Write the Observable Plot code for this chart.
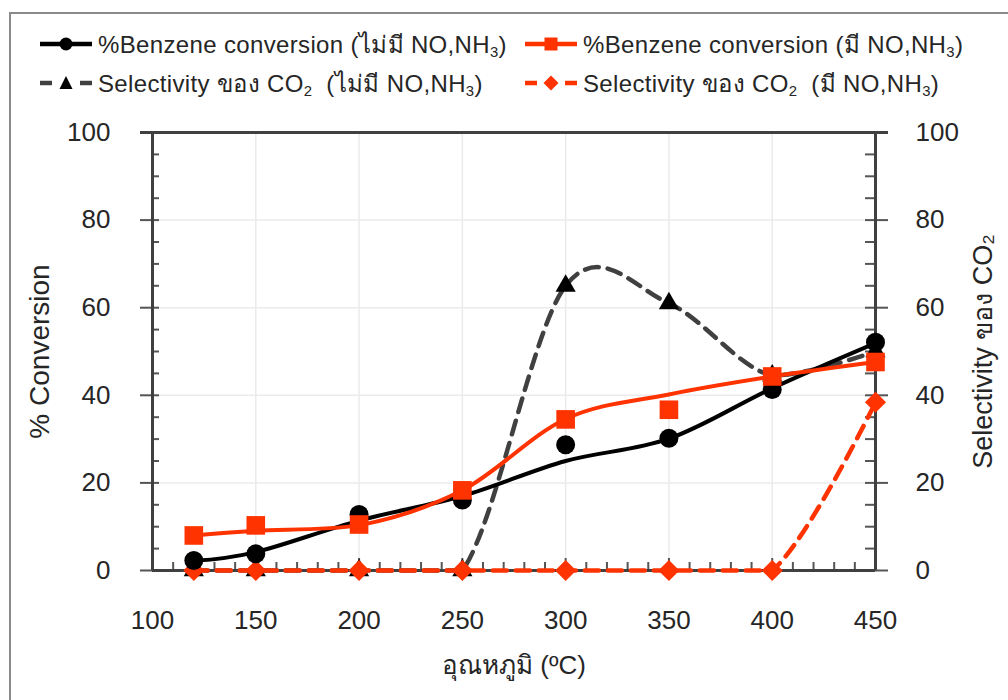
<!DOCTYPE html>
<html>
<head>
<meta charset="utf-8">
<script src="https://cdn.jsdelivr.net/npm/d3@7"></script>
<script src="https://cdn.jsdelivr.net/npm/@observablehq/plot@0.6"></script>
<style>
  html, body { margin: 0; padding: 0; background: #fff; }
  body { width: 1008px; height: 700px; position: relative; overflow: hidden;
         font-family: "Liberation Sans", "Noto Sans", "DejaVu Sans", sans-serif; color: #262626; }
  #frame { position: absolute; left: 9px; top: 12px; width: 1100px; height: 800px;
           border: 2px solid #8a8a8a; box-sizing: border-box; }
  #chart { position: absolute; left: 0; top: 0; }
  .leg { position: absolute; display: flex; align-items: center; font-size: 24px; letter-spacing: 0.35px; white-space: nowrap; height: 30px; }
  .leg svg { margin-right: 6px; }
  .leg sub { font-size: 0.62em; vertical-align: -0.28em; line-height: 0; }
</style>
</head>
<body>
<div id="frame"></div>
<div id="chart"></div>
<div id="legend"></div>
<script>
// ---- data ----
const temps = [120, 150, 200, 250, 300, 350, 400, 450];
// markers
const convNoMark   = [2.3, 3.8, 12.8, 16.1, 28.7, 30.2, 41.3, 52.1];
const convWithMark = [8.0, 10.3, 10.5, 18.3, 34.5, 36.7, 44.3, 47.6];
// smoothed lines (as drawn)
const convNoLine   = [2.2, 4.2, 11.4, 17.0, 25.0, 30.1, 41.6, 51.9];
const convWithLine = [8.0, 9.1, 10.3, 18.3, 34.6, 40.2, 44.3, 47.6];
const selNo   = [0, 0, 0, 0, 65, 61, 44.5, 50];
const selWith = [0, 0, 0, 0, 0, 0, 0, 38.4];
// axes
const xTicks = [100, 150, 200, 250, 300, 350, 400, 450];
const xGrid  = [150, 200, 250, 300, 350, 400];
const xMinor = [110,120,130,140,150,160,170,180,190,200,210,220,230,240,250,260,270,280,290,300,310,320,330,340,350,360,370,380,390,400,410,420,430,440,450];
const yTicks = [0, 20, 40, 60, 80, 100];
const yGrid  = [20, 40, 60, 80];
const yMinor = [5,10,15,20,25,30,35,40,45,50,55,60,65,70,75,80,85,90,95,100];
const xTitle = "อุณหภูมิ (ºC)";
const yTitle = "% Conversion";
const y2Title = "Selectivity ของ CO₂";
const legendItems = [
  {label: '%Benzene conversion (ไม่มี NO,NH<sub>3</sub>)', color: "#000000", symbol: "circle", dash: false},
  {label: '%Benzene conversion (มี NO,NH<sub>3</sub>)', color: "#ff3300", symbol: "square", dash: false},
  {label: 'Selectivity ของ CO<sub>2</sub>&nbsp; (ไม่มี NO,NH<sub>3</sub>)', color: "#404040", mark: "#000000", symbol: "triangle", dash: true},
  {label: 'Selectivity ของ CO<sub>2</sub>&nbsp; (มี NO,NH<sub>3</sub>)', color: "#ff3300", symbol: "diamond", dash: true}
];

const RED = "#ff3300", AX = "#404040", TK = "#555555", GRID = "#ebebeb";
const FONT = "Liberation Sans, Noto Sans, DejaVu Sans, sans-serif";
const DASH = "14,9";

// Excel-like smoothing: cardinal spline that never dips below the lower segment end
function smoothCurve(context) {
  let py = 0;
  const proxy = {
    moveTo(x, y) { py = y; context.moveTo(x, y); },
    lineTo(x, y) { py = y; context.lineTo(x, y); },
    bezierCurveTo(x1, y1, x2, y2, x, y) {
      const lim = Math.max(py, y);
      context.bezierCurveTo(x1, Math.min(y1, lim), x2, Math.min(y2, lim), x, y);
      py = y;
    },
    closePath() { context.closePath(); }
  };
  return d3.curveCardinal(proxy);
}

const chart = Plot.plot({
  width: 1008,
  height: 700,
  marginLeft: 152,
  marginRight: 133,
  marginTop: 132,
  marginBottom: 130,
  style: {fontFamily: FONT, background: "transparent", color: "#262626"},
  x: {domain: [100, 450], axis: null},
  y: {domain: [0, 100], axis: null},
  marks: [
    // gridlines
    Plot.ruleX(xGrid, {stroke: GRID, strokeWidth: 1.5}),
    Plot.ruleY(yGrid, {stroke: GRID, strokeWidth: 1.5}),
    // left axis ticks
    Plot.ruleY(yMinor, {y: d => d, x1: 100, x2: 100, insetRight: -7, stroke: TK, strokeWidth: 2}),
    Plot.ruleY(yTicks, {y: d => d, x1: 100, x2: 100, insetLeft: -12, stroke: TK, strokeWidth: 2}),
    // right axis ticks
    Plot.ruleY(yMinor, {y: d => d, x1: 450, x2: 450, insetLeft: -10, stroke: TK, strokeWidth: 2}),
    Plot.ruleY(yTicks, {y: d => d, x1: 450, x2: 450, insetRight: -13, stroke: TK, strokeWidth: 2}),
    // x axis ticks
    Plot.ruleX(xMinor, {x: d => d, y1: 0, y2: 0, insetBottom: 8, stroke: TK, strokeWidth: 2}),
    Plot.ruleX(xTicks, {x: d => d, y1: 0, y2: 0, insetTop: -12, stroke: TK, strokeWidth: 2}),
    // axis lines
    Plot.ruleX([100, 450], {stroke: AX, strokeWidth: 3}),
    Plot.ruleY([0], {stroke: AX, strokeWidth: 3}),
    Plot.ruleY([100], {stroke: AX, strokeWidth: 3, insetLeft: -12, insetRight: -13}),
    // tick labels
    Plot.text(yTicks, {x: 100, y: d => d, text: d => String(d), dx: -42, textAnchor: "end", fontSize: 26, fill: "#262626"}),
    Plot.text(yTicks, {x: 450, y: d => d, text: d => String(d), dx: 40, textAnchor: "start", fontSize: 26, fill: "#262626"}),
    Plot.text(xTicks, {x: d => d, y: 0, text: d => String(d), dy: 50, fontSize: 26, fill: "#262626"}),
    // axis titles
    Plot.text([yTitle], {frameAnchor: "left", dx: -112, rotate: -90, textAnchor: "middle", lineAnchor: "middle", fontSize: 28, fill: "#262626"}),
    Plot.text([y2Title], {frameAnchor: "right", dx: 108, rotate: -90, textAnchor: "middle", lineAnchor: "middle", fontSize: 27, fill: "#262626"}),
    Plot.text([xTitle], {frameAnchor: "bottom", dy: 95, textAnchor: "middle", lineAnchor: "middle", fontSize: 26, fill: "#262626"}),
    // series: selectivity without NO (gray dashed, triangles)
    Plot.line(temps, {x: temps, y: selNo, curve: smoothCurve, stroke: AX, strokeWidth: 4.5, strokeDasharray: DASH}),
    Plot.dot(temps, {x: temps, y: selNo, symbol: "triangle", r: 7.5, fill: "#000"}),
    // selectivity with NO (red dashed, diamonds)
    Plot.line(temps, {x: temps, y: selWith, curve: smoothCurve, stroke: RED, strokeWidth: 4.5, strokeDasharray: DASH}),
    Plot.dot(temps, {x: temps, y: selWith, symbol: "diamond2", r: 9.5, fill: RED}),
    // conversion without NO (black)
    Plot.line(temps, {x: temps, y: convNoLine, curve: smoothCurve, stroke: "#000", strokeWidth: 4}),
    Plot.dot(temps, {x: temps, y: convNoMark, symbol: "circle", r: 9.5, fill: "#000"}),
    // conversion with NO (red)
    Plot.line(temps, {x: temps, y: convWithLine, curve: smoothCurve, stroke: RED, strokeWidth: 4}),
    Plot.dot(temps, {x: temps, y: convWithMark, symbol: "square", r: 10.5, fill: RED})
  ]
});
document.getElementById("chart").appendChild(chart);

// ---- legend ----
const legPos = [
  {left: 40, top: 29}, {left: 525, top: 29},
  {left: 40, top: 68}, {left: 525, top: 68}
];
const legend = document.getElementById("legend");
legendItems.forEach((it, i) => {
  const div = document.createElement("div");
  div.className = "leg";
  div.style.left = legPos[i].left + "px";
  div.style.top = legPos[i].top + "px";
  const mk = it.mark || it.color;
  let sym = "";
  if (it.symbol === "circle") sym = `<circle cx="26" cy="15" r="6.5" fill="${mk}"/>`;
  if (it.symbol === "square") sym = `<rect x="19.5" y="8.5" width="13" height="13" fill="${mk}"/>`;
  if (it.symbol === "triangle") sym = `<path d="M26,8 L32.5,21 L19.5,21 Z" fill="${mk}"/>`;
  if (it.symbol === "diamond") sym = `<path d="M26,7.5 L33.5,15 L26,22.5 L18.5,15 Z" fill="${mk}"/>`;
  const line = it.dash
    ? `<line x1="0" x2="12" y1="15" y2="15" stroke="${it.color}" stroke-width="4.5"/><line x1="40" x2="52" y1="15" y2="15" stroke="${it.color}" stroke-width="4.5"/>`
    : `<line x1="0" x2="52" y1="15" y2="15" stroke="${it.color}" stroke-width="4.5"/>`;
  div.innerHTML = `<svg width="52" height="30">${line}${sym}</svg><span>${it.label}</span>`;
  legend.appendChild(div);
});
</script>
</body>
</html>
